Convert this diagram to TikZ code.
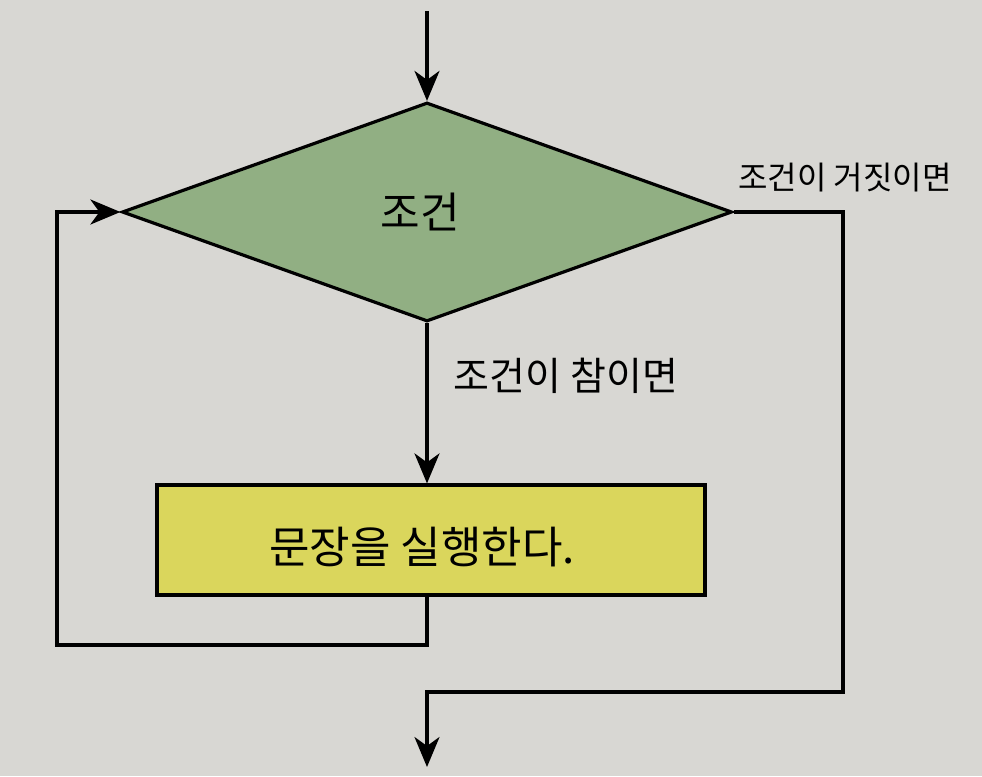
\documentclass[tikz,border=0pt]{standalone}
\usepackage{fontspec}
\setmainfont{Noto Sans CJK KR}
\usetikzlibrary{shapes.geometric,arrows.meta}
\definecolor{bg}{HTML}{D8D7D3}
\definecolor{dgreen}{HTML}{91AF83}
\definecolor{dyellow}{HTML}{DAD65C}
\begin{document}
\begin{tikzpicture}[x=1pt,y=-1pt,line width=3.2pt,
  arr/.style={-{Stealth[length=30pt,width=25pt,inset=9pt]}},
  condbox/.style={diamond,draw,fill=dgreen,minimum width=610pt,minimum height=219pt,inner sep=0pt},
  stmtbox/.style={draw,fill=dyellow,minimum width=548pt,minimum height=110pt,inner sep=0pt},
  txt/.style={inner sep=0pt}]
\fill[bg] (0,0) rectangle (982,776);
\useasboundingbox (0,0) rectangle (982,776);
\node[condbox] (cond) at (427,212) {};
\node[txt,font=\fontsize{43}{50}\selectfont] (ctext) at (420,212) {조건};
\node[stmtbox] (stmt) at (431,540) {};
\node[txt,font=\fontsize{44}{52}\selectfont] (stext) at (422,547) {문장을 실행한다.};
\node[txt,font=\fontsize{32}{38}\selectfont] (flab) at (845,178) {조건이 거짓이면};
\node[txt,font=\fontsize{39}{46}\selectfont] (tlab) at (566,376) {조건이 참이면};
\coordinate (top) at (427,11);
\coordinate (lb) at (57,645);
\coordinate (rb) at (843,692);
\coordinate (out) at (427,767);
\draw[arr] (top) -- (cond.north);
\draw[arr] (cond.south) -- (cond.south |- stmt.north);
\draw[arr] (cond.south |- stmt.south) -- (cond.south |- lb) -- (lb) -- (lb |- cond.west) -- (cond.west);
\draw[arr] (cond.east) -| (rb) -- (out |- rb) -- (out);
\end{tikzpicture}
\end{document}
